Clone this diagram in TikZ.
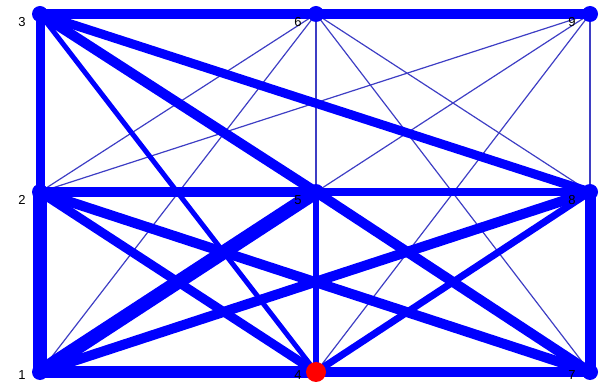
\documentclass[tikz,border=0pt]{standalone}
\usepackage{fontspec}
\setmainfont{Liberation Sans}
\usepackage{xcolor}
\usepackage{tikz}
\usetikzlibrary{positioning,backgrounds}
\definecolor{netblue}{HTML}{0000FF}
\definecolor{thinblue}{HTML}{3E3EC4}
\definecolor{hub}{HTML}{FF0000}

\begin{document}
\begin{tikzpicture}[x=1pt,y=-1pt,
    vtx/.style={circle,fill=netblue,minimum size=16pt,inner sep=0pt},
    numlbl/.style={font=\fontsize{13}{13}\selectfont,text=black,inner sep=0pt}]
  \useasboundingbox (0,0) rectangle (603,382);
  % vertices
  \foreach \n/\x/\y/\d in {1/40/372/3,2/40/192/8,3/40/14/8,4/316/372/3,5/316/192/8,6/316/14/8,7/590/372/3,8/590/192/8,9/590/14/8}{
     \node[vtx] (v\n) at (\x,\y) {};
     \node[numlbl] (l\n) at (\x-18,\y+\d) {\n};}
  \node[circle,fill=hub,minimum size=20pt,inner sep=0pt] (v4r) at (v4) {};
  \begin{scope}[on background layer]
  % weak links
  \foreach \a/\b in {1/6,2/6,2/9,6/8,6/7,9/5,9/4}{
     \draw[thinblue,line width=1.2pt] (v\a.center) -- (v\b.center);}
  \draw[thinblue,line width=1.6pt] (v9.center) -- (v8.center);
  \draw[thinblue,line width=2pt] (v6.center) -- (v5.center);
  % strong links
  \foreach \a/\b/\w in {1/2/14,2/3/9,3/6/10,6/9/10,1/4/12,4/7/10,7/8/11,4/5/6,2/5/10,5/8/8,
     3/8/9,3/5/10,3/4/5,2/7/10,2/4/9,1/5/14,1/8/10,5/7/10,4/8/7}{
     \draw[netblue,line width=\w pt] (v\a.center) -- (v\b.center);}
  \end{scope}
\end{tikzpicture}
\end{document}
